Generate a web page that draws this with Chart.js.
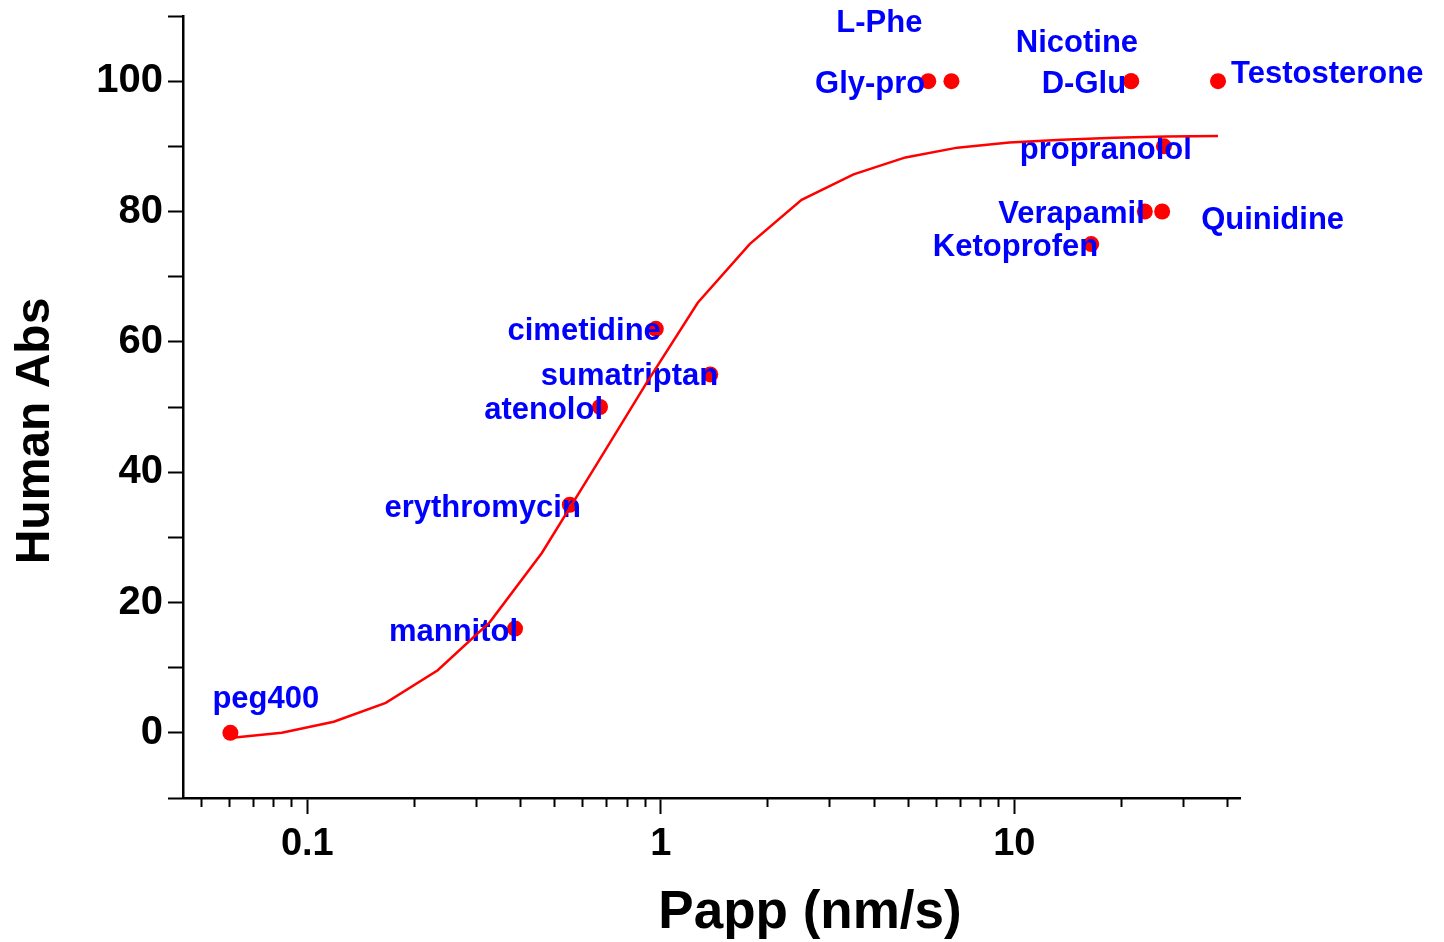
<!DOCTYPE html>
<html>
<head>
<meta charset="utf-8">
<script src="https://cdn.jsdelivr.net/npm/chart.js@4/dist/chart.umd.min.js"></script>
<style>
  html, body { margin: 0; padding: 0; background: #fff; }
  #wrap { width: 1444px; height: 942px; position: relative; }
</style>
</head>
<body>
<div id="wrap"><canvas id="chart"></canvas></div>
<script>
// measured compounds
const compoundNames = ["peg400", "mannitol", "erythromycin", "atenolol", "cimetidine", "sumatriptan",
  "Gly-pro", "L-Phe", "Nicotine", "D-Glu", "Testosterone", "propranolol", "Verapamil", "Quinidine", "Ketoprofen"];
const papp = [0.0606, 0.387, 0.553, 0.673, 0.968, 1.38, 5.71, 6.64, 21.4, 21.4, 37.7, 26.5, 23.4, 26.2, 16.5];
const humanAbs = [0, 16, 35, 50, 62, 55, 100, 100, 100, 100, 100, 90, 80, 80, 75];

// fitted curve
const fitPapp = [0.0603, 0.0847, 0.1188, 0.1667, 0.2339, 0.3284, 0.4608, 0.6466, 0.907, 1.272,
  1.784, 2.502, 3.51, 4.921, 6.902, 9.68, 13.66, 19.16, 26.88, 37.7];
const fitAbs = [-0.8, 0, 1.7, 4.6, 9.6, 17, 27.6, 40.5, 53.5, 66,
  75, 81.8, 85.7, 88.3, 89.8, 90.6, 91.0, 91.3, 91.5, 91.6];

const xMajorTicks = [0.1, 1, 10];
const xMinorTicks = [0.05, 0.06, 0.07, 0.08, 0.09, 0.2, 0.3, 0.4, 0.5, 0.6, 0.7, 0.8, 0.9,
  2, 3, 4, 5, 6, 7, 8, 9, 20, 30, 40];
const yLabelTicks = [0, 20, 40, 60, 80, 100];

const xTitle = "Papp (nm/s)";
const yTitle = "Human Abs";

// where each label sits relative to its dot: [align, dx, dy]
const labelPlacement = {
  "peg400": ["left", -18, -33],
  "mannitol": ["right", 3, 4],
  "erythromycin": ["right", 11, 4],
  "atenolol": ["right", 3, 3],
  "cimetidine": ["right", 5, 3],
  "sumatriptan": ["right", 8, 2],
  "Gly-pro": ["right", -3, 3],
  "L-Phe": ["right", -29, -58],
  "Nicotine": ["right", 7, -38],
  "D-Glu": ["right", -5, 3],
  "Testosterone": ["left", 13, -7],
  "propranolol": ["right", 28, 4],
  "Verapamil": ["right", 0, 3],
  "Quinidine": ["left", 39, 9],
  "Ketoprofen": ["right", 7, 3]
};

const RED = "#ff0000";
const BLUE = "#0000ff";
const FONT = "'Liberation Sans', Arial, sans-serif";

const pointLabels = {
  id: "pointLabels",
  afterDatasetDraw(chart, args) {
    if (args.index !== 1) return;
    const ctx = chart.ctx;
    ctx.save();
    ctx.font = `bold 31px ${FONT}`;
    ctx.fillStyle = BLUE;
    ctx.textBaseline = "middle";
    args.meta.data.forEach((pt, i) => {
      const [align, dx, dy] = labelPlacement[compoundNames[i]];
      ctx.textAlign = align;
      ctx.fillText(compoundNames[i], pt.x + dx, pt.y + dy);
    });
    ctx.restore();
  }
};

const minorTicks = {
  id: "minorTicks",
  afterDraw(chart) {
    const { ctx, scales: { x } } = chart;
    ctx.save();
    ctx.strokeStyle = "#000";
    ctx.lineWidth = 2;
    xMinorTicks.forEach((v) => {
      const px = Math.round(x.getPixelForValue(v)) + 0.5;
      ctx.beginPath();
      ctx.moveTo(px, x.top);
      ctx.lineTo(px, x.top + 9);
      ctx.stroke();
    });
    ctx.restore();
  }
};

const axisTitles = {
  id: "axisTitles",
  afterDraw(chart) {
    const { ctx, chartArea } = chart;
    ctx.save();
    ctx.fillStyle = "#000";
    ctx.textAlign = "center";
    ctx.textBaseline = "middle";
    ctx.font = `bold 53px ${FONT}`;
    ctx.fillText(xTitle, chartArea.left + 627, chartArea.bottom + 115);
    ctx.translate(36, chartArea.top + 415);
    ctx.rotate(-Math.PI / 2);
    ctx.font = `bold 48px ${FONT}`;
    ctx.fillText(yTitle, 0, 0);
    ctx.restore();
  }
};

function noOverhang(scale) {
  scale.paddingTop = 0;
  scale.paddingBottom = 0;
  scale.paddingLeft = 0;
  scale.paddingRight = 0;
}

new Chart(document.getElementById("chart"), {
  type: "scatter",
  data: {
    datasets: [
      {
        label: "fit",
        data: fitPapp.map((x, i) => ({ x, y: fitAbs[i] })),
        showLine: true,
        borderColor: RED,
        borderWidth: 2.5,
        pointRadius: 0,
        tension: 0
      },
      {
        label: "compounds",
        data: papp.map((x, i) => ({ x, y: humanAbs[i] })),
        backgroundColor: RED,
        borderWidth: 0,
        pointRadius: 8
      }
    ]
  },
  options: {
    responsive: true,
    maintainAspectRatio: false,
    animation: false,
    layout: { padding: { top: 16, right: 204, left: 0, bottom: 0 } },
    plugins: { legend: { display: false }, tooltip: { enabled: false } },
    scales: {
      x: {
        type: "logarithmic",
        min: 0.0445,
        max: 43.5,
        afterBuildTicks: (scale) => { scale.ticks = xMajorTicks.map((value) => ({ value })); },
        afterFit: (scale) => { scale.height = 144; noOverhang(scale); },
        border: { color: "#000", width: 2.5 },
        grid: { drawOnChartArea: false, drawTicks: true, tickLength: 16, tickWidth: 2, tickColor: "#000" },
        ticks: {
          autoSkip: false,
          maxRotation: 0,
          padding: 8,
          color: "#000",
          font: { family: FONT, size: 38, weight: "bold" },
          callback: (value) => String(value)
        }
      },
      y: {
        min: -10,
        max: 110,
        afterFit: (scale) => { scale.width = 183; noOverhang(scale); },
        border: { color: "#000", width: 2.5 },
        grid: { drawOnChartArea: false, drawTicks: true, tickLength: 15, tickWidth: 2, tickColor: "#000" },
        ticks: {
          stepSize: 10,
          padding: 5,
          color: "#000",
          font: { family: FONT, size: 40, weight: "bold" },
          callback: (value) => yLabelTicks.includes(value) ? String(value) : ""
        }
      }
    }
  },
  plugins: [pointLabels, minorTicks, axisTitles]
});
</script>
</body>
</html>
